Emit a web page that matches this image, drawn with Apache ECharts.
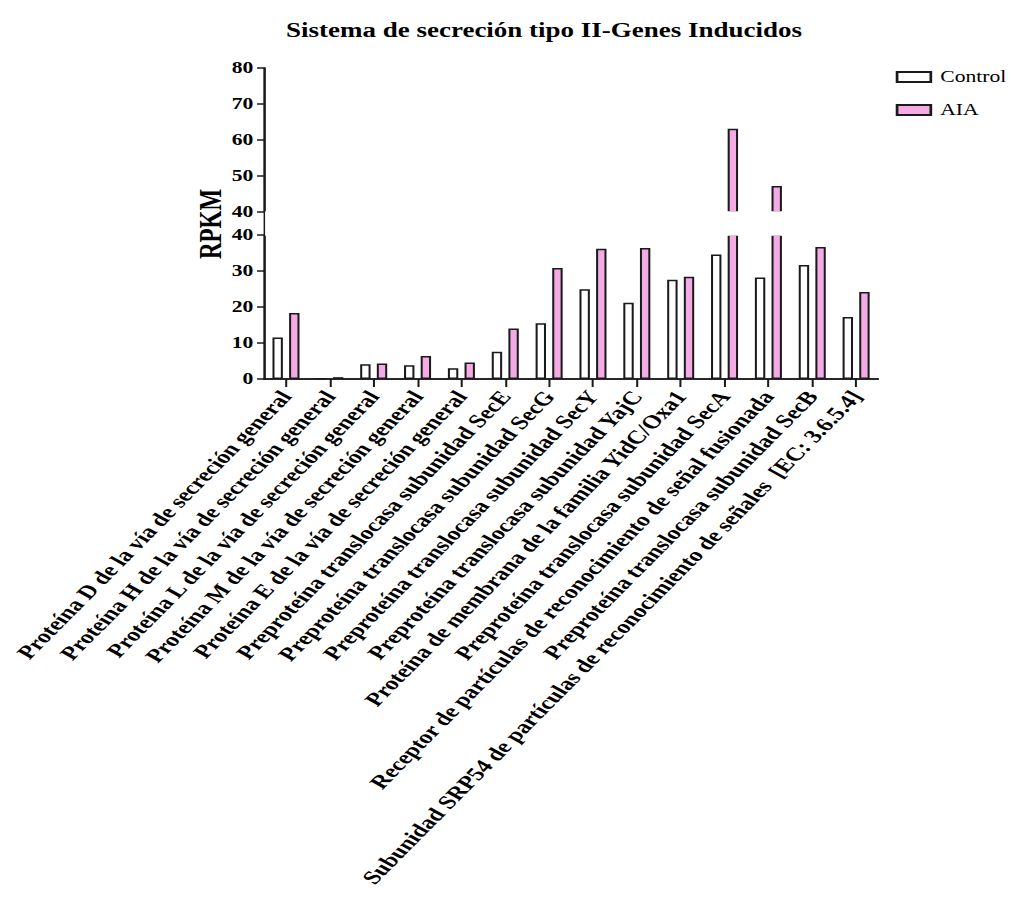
<!DOCTYPE html>
<html>
<head>
<meta charset="utf-8">
<script src="https://cdn.jsdelivr.net/npm/echarts@6/dist/echarts.min.js"></script>
<style>
  html, body { margin: 0; padding: 0; background: #ffffff; overflow: hidden; }
  #wrap { width: 1011px; height: 897px; overflow: hidden; }
  /* the plot is laid out on a narrower canvas and widened horizontally */
  #chart { width: 790px; height: 897px; transform: scaleX(1.35); transform-origin: 0 0; }
</style>
</head>
<body>
<div id="wrap"><div id="chart"></div></div>
<script>
// Genes of the type II secretion system (RPKM)
const categories = [
  'Proteína D de la vía de secreción general',
  'Proteína H de la vía de secreción general',
  'Proteína L de la vía de secreción general',
  'Proteína M de la vía de secreción general',
  'Proteína E de la vía de secreción general',
  'Preproteína translocasa subunidad SecE',
  'Preproteína translocasa subunidad SecG',
  'Preproteína translocasa subunidad SecY',
  'Preproteína translocasa subunidad YajC',
  'Proteína de membrana de la familia YidC/Oxa1',
  'Preproteína translocasa subunidad SecA',
  'Receptor de partículas de reconocimiento de señal fusionada',
  'Preproteína translocasa subunidad SecB',
  'Subunidad SRP54 de partículas de reconocimiento de señales  [EC: 3.6.5.4]'
];
const controlValues = [11.5, 0.2, 4.1, 3.8, 3.0, 7.6, 15.5, 24.9, 21.2, 27.6, 34.6, 28.2, 31.7, 17.2];
const aiaValues     = [18.3, 0.5, 4.3, 6.4, 4.6, 14.0, 30.8, 36.2, 36.4, 28.4, 63.1, 47.2, 36.7, 24.2];
const seriesNames = ['Control', 'AIA'];

// broken value axis: lower segment and upper segment
const lowerRange = [0, 40];
const upperRange = [40, 80];
const tickStep = 10;

const SERIF = '"Liberation Serif", "Times New Roman", serif';
const INK = '#1a1a1a';
const PINK = '#f4aae4';

const plotLeft = 195.6, plotWidth = 454.8;
const upperTop = 68, segHeight = 144, lowerTop = 235;

const axisLineStyle = { color: INK, width: 1.5 };

function aboveBreak(values) {
  return values.map(v => (v > lowerRange[1] ? v : '-'));
}

function barStyle(fill) {
  return { color: fill, borderColor: INK, borderWidth: 1.5 };
}

const chart = echarts.init(document.getElementById('chart'), null, { renderer: 'svg' });

chart.setOption({
  animation: false,
  backgroundColor: '#ffffff',
  title: {
    text: 'Sistema de secreción tipo II-Genes Inducidos',
    left: 398, top: 15, textAlign: 'center',
    textStyle: { fontFamily: SERIF, fontWeight: 'bold', fontSize: 20, color: '#000' }
  },
  legend: {
    data: seriesNames,
    orient: 'vertical',
    left: 658.5, top: 64,
    itemWidth: 25, itemHeight: 10, itemGap: 17,
    icon: 'rect',
    textStyle: { fontFamily: SERIF, fontSize: 16, color: '#000', padding: [0, 0, 0, 2] }
  },
  grid: [
    { left: plotLeft, width: plotWidth, top: lowerTop, height: segHeight },
    { left: plotLeft, width: plotWidth, top: upperTop, height: segHeight },
    { left: plotLeft, width: plotWidth, top: upperTop, height: lowerTop + segHeight - upperTop }
  ],
  xAxis: [
    {
      gridIndex: 0, type: 'category', data: categories,
      axisLine: { show: true, lineStyle: axisLineStyle },
      axisTick: { show: true, alignWithLabel: true, length: 8, lineStyle: axisLineStyle },
      axisLabel: {
        interval: 0, rotate: 53.5, margin: 14,
        fontFamily: SERIF, fontWeight: 'bold', fontSize: 19, color: '#000'
      },
      splitLine: { show: false }
    },
    { gridIndex: 1, type: 'category', data: categories, show: false },
    {
      gridIndex: 2, type: 'value', position: 'top', min: 0, max: 1,
      axisLine: { show: true, lineStyle: axisLineStyle },
      axisTick: { show: false }, axisLabel: { show: false }, splitLine: { show: false }
    }
  ],
  yAxis: [
    {
      gridIndex: 0, type: 'value', min: lowerRange[0], max: lowerRange[1], interval: tickStep,
      axisLine: { show: true, lineStyle: axisLineStyle },
      axisTick: { show: true, length: 5.2, lineStyle: axisLineStyle },
      axisLabel: { margin: 8, fontFamily: SERIF, fontWeight: 'bold', fontSize: 16, color: '#000' },
      splitLine: { show: false }
    },
    {
      gridIndex: 1, type: 'value', min: upperRange[0], max: upperRange[1], interval: tickStep,
      axisLine: { show: true, lineStyle: axisLineStyle },
      axisTick: { show: true, length: 5.2, lineStyle: axisLineStyle },
      axisLabel: { margin: 8, fontFamily: SERIF, fontWeight: 'bold', fontSize: 16, color: '#000' },
      splitLine: { show: false }
    },
    {
      gridIndex: 2, type: 'value', position: 'right', min: 0, max: 1,
      axisLine: { show: true, lineStyle: axisLineStyle },
      axisTick: { show: false }, axisLabel: { show: false }, splitLine: { show: false }
    }
  ],
  series: [
    { name: seriesNames[0], type: 'bar', xAxisIndex: 0, yAxisIndex: 0, data: controlValues,
      barWidth: 7.7, barGap: '60%', itemStyle: barStyle('#ffffff') },
    { name: seriesNames[1], type: 'bar', xAxisIndex: 0, yAxisIndex: 0, data: aiaValues,
      barWidth: 7.7, barGap: '60%', itemStyle: barStyle(PINK) },
    { name: seriesNames[0], type: 'bar', xAxisIndex: 1, yAxisIndex: 1, data: aboveBreak(controlValues),
      barWidth: 7.7, barGap: '60%', itemStyle: barStyle('#ffffff') },
    { name: seriesNames[1], type: 'bar', xAxisIndex: 1, yAxisIndex: 1, data: aboveBreak(aiaValues),
      barWidth: 7.7, barGap: '60%', itemStyle: barStyle(PINK) }
  ],
  graphic: [
    {
      // white band marking the axis break across the bars
      type: 'rect', z: 100, silent: true,
      shape: { x: 196.4, y: 211.2, width: 452.7, height: 24.6 },
      style: { fill: '#ffffff' }
    },
    {
      type: 'text', z: 100, x: 156.3, y: 224, rotation: Math.PI / 2,
      style: {
        text: 'RPKM', font: 'bold 23px ' + SERIF, fill: '#000',
        align: 'center', verticalAlign: 'middle',
        textAlign: 'center', textVerticalAlign: 'middle'
      }
    }
  ]
});
</script>
</body>
</html>
